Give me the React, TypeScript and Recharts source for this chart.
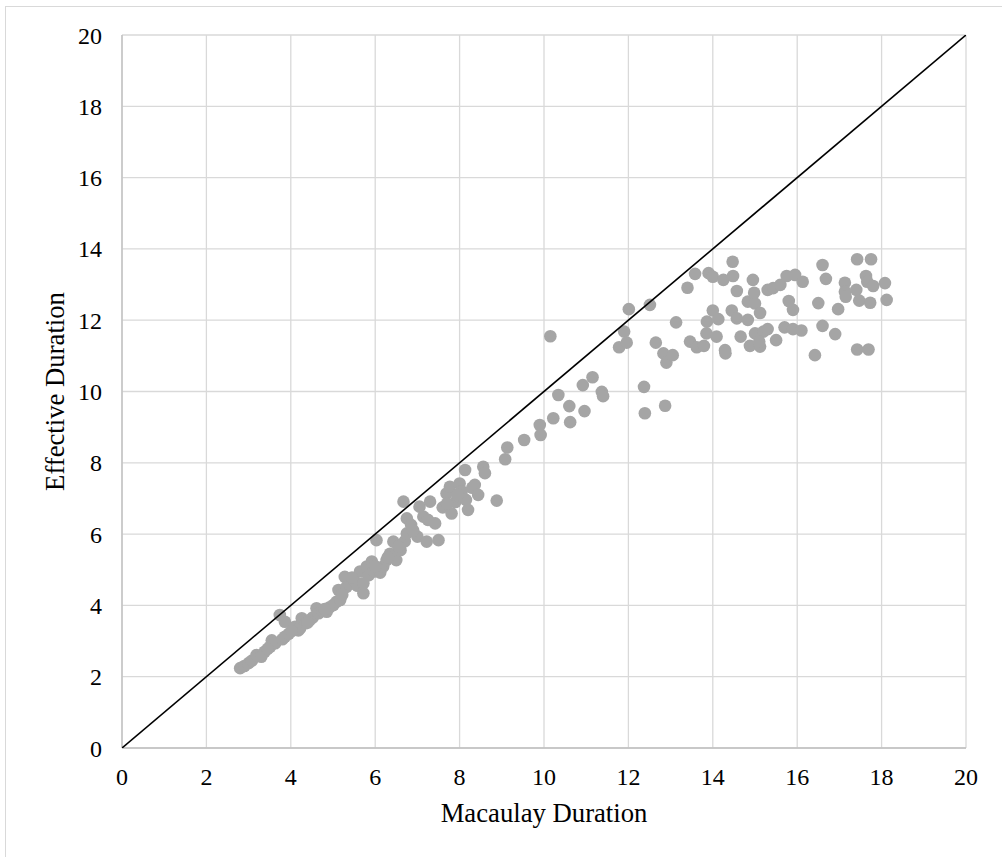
import React from "react";
import {
  ScatterChart,
  Scatter,
  XAxis,
  YAxis,
  CartesianGrid,
  Label,
} from "recharts";

// Short-duration bonds
const macaulayShort = [
  2.8, 2.9, 3.0, 3.08, 3.19, 3.3, 3.38, 3.51, 3.55, 3.63, 3.74, 3.8, 3.86, 3.86, 3.95,
  4.1, 4.18, 4.22, 4.26, 4.35, 4.45, 4.52, 4.61, 4.66, 4.75, 4.85, 4.92, 5.01, 5.08,
  5.13, 5.17, 5.28, 5.32, 5.4, 5.5, 5.58, 5.64, 5.72, 5.72, 5.8, 5.85, 5.92, 5.98,
  6.03, 6.08, 6.12, 6.19, 6.27, 6.35, 6.43, 6.5, 6.6, 6.67, 6.7, 6.75, 6.75, 6.85,
  7.0, 7.05, 3.45, 4.02, 4.4, 4.8, 5.22, 5.45, 6.0, 6.3, 6.55, 6.9,
];
const effectiveShort = [
  2.24, 2.3, 2.38, 2.45, 2.61, 2.56, 2.7, 2.84, 3.02, 2.94, 3.73, 3.05, 3.54, 3.12, 3.2,
  3.4, 3.3, 3.36, 3.64, 3.5, 3.59, 3.66, 3.92, 3.78, 3.85, 3.82, 3.95, 4.01, 4.1,
  4.43, 4.15, 4.8, 4.52, 4.6, 4.7, 4.55, 4.95, 4.34, 4.62, 5.09, 4.85, 5.23, 4.95,
  5.83, 5.05, 4.92, 5.09, 5.27, 5.45, 5.79, 5.27, 5.55, 6.91, 5.8, 6.02, 6.44, 6.26,
  5.93, 6.77, 2.78, 3.28, 3.52, 3.9, 4.3, 4.78, 5.1, 5.35, 5.65, 6.1,
];

// Medium-duration bonds
const macaulayMid = [
  7.14, 7.22, 7.3, 7.42, 7.5, 7.25, 7.6, 7.69, 7.77, 7.81, 7.9, 8.0, 8.0, 8.05, 8.13,
  8.15, 8.2, 8.3, 8.36, 8.44, 8.56, 8.6, 8.88, 9.08, 9.13, 9.53, 9.9, 9.92, 10.15,
  10.22, 10.34, 10.6, 10.62, 10.92, 10.96, 11.15, 11.37, 11.4, 7.95, 7.7,
];
const effectiveMid = [
  6.49, 5.79, 6.91, 6.3, 5.83, 6.4, 6.75, 7.14, 7.33, 6.58, 6.9, 7.42, 7.05, 7.2, 7.8,
  6.96, 6.68, 7.3, 7.38, 7.1, 7.89, 7.71, 6.94, 8.1, 8.43, 8.64, 9.06, 8.78, 11.55,
  9.25, 9.9, 9.59, 9.14, 10.18, 9.45, 10.4, 9.99, 9.87, 7.1, 6.85,
];

// Long-duration bonds
const macaulayLong = [
  11.78, 11.9, 11.96, 12.01, 12.37, 12.39, 12.51, 12.65, 12.83, 12.87, 12.9, 13.05,
  13.13, 13.4, 13.46, 13.58, 13.62, 13.79, 13.85, 13.86, 13.9, 14.0, 14.0, 14.09,
  14.13, 14.25, 14.29, 14.3, 14.45, 14.47, 14.48, 14.57, 14.57, 14.66, 14.83, 14.83,
  14.88, 14.95, 14.98, 15.0, 15.0, 15.12, 15.12, 15.2, 15.3, 15.1, 15.3, 15.43, 15.5,
  15.6, 15.7, 15.75, 15.8, 15.9, 15.9, 15.95, 16.1, 16.13, 16.42, 16.5, 16.6, 16.6,
  16.68, 16.9, 16.97, 17.13, 17.13, 17.15, 17.4, 17.42, 17.42, 17.47, 17.63, 17.66,
  17.69, 17.73, 17.75, 17.8, 18.08, 18.12,
];
const effectiveLong = [
  11.24, 11.68, 11.37, 12.31, 10.13, 9.39, 12.43, 11.37, 11.07, 9.6, 10.81, 11.02,
  11.94, 12.91, 11.4, 13.3, 11.24, 11.28, 11.63, 11.96, 13.32, 12.27, 13.22, 11.54,
  12.03, 13.13, 11.16, 11.07, 12.27, 13.64, 13.24, 12.82, 12.05, 11.54, 12.52, 12.01,
  11.28, 13.13, 12.77, 12.47, 11.63, 12.2, 11.26, 11.68, 11.75, 11.4, 12.85, 12.9, 11.44,
  12.99, 11.8, 13.24, 12.54, 12.29, 11.75, 13.27, 11.71, 13.08, 11.02, 12.48, 13.55, 11.84,
  13.16, 11.61, 12.31, 13.05, 12.8, 12.66, 12.85, 13.71, 11.18, 12.55, 13.24, 13.08,
  11.18, 12.49, 13.71, 12.96, 13.04, 12.57,
];

// 45-degree reference line
const diagonalX = [0, 20];
const diagonalY = [0, 20];

const axisTicks = [0, 2, 4, 6, 8, 10, 12, 14, 16, 18, 20];

const macaulayAll = [...macaulayShort, ...macaulayMid, ...macaulayLong];
const effectiveAll = [...effectiveShort, ...effectiveMid, ...effectiveLong];
const points = macaulayAll.map((x, i) => ({ x, y: effectiveAll[i] }));
const diagonal = diagonalX.map((x, i) => ({ x, y: diagonalY[i] }));

const FONT = "'Liberation Serif', 'Times New Roman', serif";

const Dot = (props: any) => {
  const { cx, cy } = props;
  if (cx == null || cy == null) return null;
  return <circle cx={cx} cy={cy} r={6.3} fill="#a5a5a5" />;
};

const NoShape = () => null;

const XTick = (props: any) => {
  const { x, y, payload } = props;
  return (
    <text
      x={x}
      y={y}
      dy={17}
      textAnchor="middle"
      fontFamily={FONT}
      fontSize={24}
      fill="#000"
    >
      {payload.value}
    </text>
  );
};

const YTick = (props: any) => {
  const { x, y, payload } = props;
  return (
    <text
      x={x}
      y={y}
      dy={8.5}
      textAnchor="end"
      fontFamily={FONT}
      fontSize={24}
      fill="#000"
    >
      {payload.value}
    </text>
  );
};

const XTitle = (props: any) => {
  const vb = props.viewBox || { x: 122, y: 748, width: 844, height: 109 };
  return (
    <text
      x={vb.x + vb.width / 2}
      y={vb.y + 74}
      textAnchor="middle"
      fontFamily={FONT}
      fontSize={26.7}
      fill="#000"
    >
      Macaulay Duration
    </text>
  );
};

const YTitle = (props: any) => {
  const vb = props.viewBox || { x: 0, y: 35, width: 122, height: 713 };
  const x = vb.x + 64;
  const y = vb.y + vb.height / 2;
  return (
    <text
      x={x}
      y={y}
      transform={`rotate(-90, ${x}, ${y})`}
      textAnchor="middle"
      fontFamily={FONT}
      fontSize={26.7}
      fill="#000"
    >
      Effective Duration
    </text>
  );
};

export default function App() {
  return (
    <div
      style={{
        position: "absolute",
        left: 0,
        top: 0,
        width: 1002,
        height: 857,
        overflow: "hidden",
        background: "#fff",
        fontFamily: FONT,
      }}
    >
      <div
        style={{
          position: "absolute",
          left: 5,
          top: 6,
          width: 1100,
          height: 1000,
          border: "1px solid #d9d9d9",
        }}
      />
      <div style={{ position: "absolute", left: 0, top: 0 }}>
        <ScatterChart
          width={1002}
          height={857}
          margin={{ top: 35, right: 36, bottom: 0, left: 0 }}
          style={{ fontFamily: FONT }}
        >
          <CartesianGrid stroke="#d9d9d9" strokeWidth={1.3} />
          <XAxis
            type="number"
            dataKey="x"
            domain={[0, 20]}
            ticks={axisTicks}
            allowDataOverflow
            height={109}
            tickLine={false}
            tickSize={0}
            tickMargin={20}
            axisLine={{ stroke: "#bfbfbf", strokeWidth: 1.3 }}
            tick={XTick}
          >
            <Label content={XTitle} />
          </XAxis>
          <YAxis
            type="number"
            dataKey="y"
            domain={[0, 20]}
            ticks={axisTicks}
            allowDataOverflow
            width={122}
            tickLine={false}
            tickSize={0}
            tickMargin={20}
            axisLine={{ stroke: "#bfbfbf", strokeWidth: 1.3 }}
            tick={YTick}
          >
            <Label content={YTitle} />
          </YAxis>
          <Scatter data={points} shape={Dot} isAnimationActive={false} />
          <Scatter
            data={diagonal}
            shape={NoShape}
            line={{ stroke: "#000", strokeWidth: 1.6 }}
            isAnimationActive={false}
          />
        </ScatterChart>
      </div>
    </div>
  );
}
